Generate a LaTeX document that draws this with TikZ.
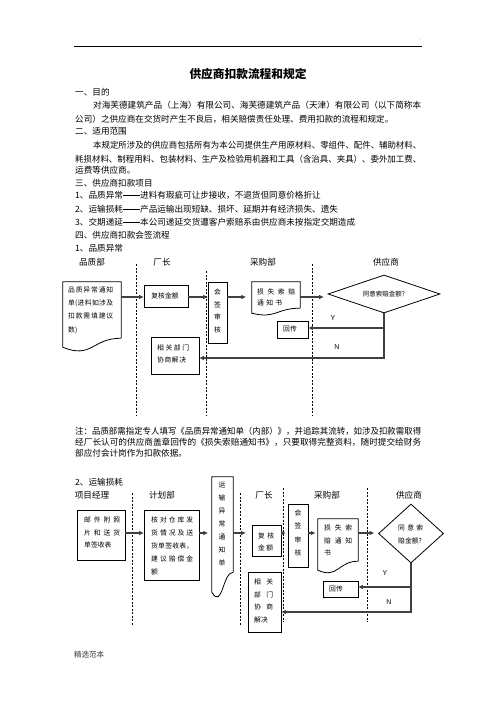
\documentclass[tikz,border=0pt]{standalone}
\usepackage{fontspec}
\setmainfont{Noto Sans CJK SC}
\newfontfamily\lat{Liberation Sans}
\usetikzlibrary{shapes.geometric,arrows.meta,calc}
\newcommand\SP[2]{\hbox to #1{#2}}
\newcommand\DD{\raisebox{0.36em}{\rule{17.2pt}{0.5pt}}}
% document outline below a named node: #1 node, #2 left-corner drop, #3 control drop
\newcommand\docwave[3]{%
  \draw[boxline] (#1.south east) -- (#1.north east) -- (#1.north west)
    -- ([yshift=-#2pt]#1.south west)
    .. controls ([yshift=-#3pt]#1.south) and (#1.south) .. (#1.south east);}
\begin{document}
\begin{tikzpicture}[x=1pt,y=-1pt,
  body/.style={anchor=west,inner sep=0,font=\fontsize{8.6}{10}\selectfont},
  head/.style={inner sep=0,font=\fontsize{8.6}{10}\selectfont},
  boxline/.style={draw=black,line width=0.8pt},
  box/.style={boxline,inner sep=0},
  docn/.style={inner sep=0},
  txt/.style={inner sep=0,align=left,font=\fontsize{6.8}{12.8}\selectfont},
  vtxt/.style={inner sep=0,align=center,font=\fontsize{6.8}{13}\selectfont},
  yn/.style={inner sep=0,font=\lat\fontsize{7}{8}\selectfont},
  lane/.style={draw=black,line width=0.8pt,dash pattern=on 2pt off 1.5pt},
  arr/.style={draw=black!75,line width=1.1pt,-{Stealth[length=4.5pt,width=4pt,inset=0.5pt]}},
  dia/.style={boxline,diamond,inner sep=0}
]
\fill[white] (0,0) rectangle (496,702);
\useasboundingbox (0,0) rectangle (496,702);

% header rule
\draw[line width=0.8pt] (74,46) -- (422,46);
\node[inner sep=0,font=\fontsize{5}{5}\selectfont,text=black!60] (dot) at (420,40) {.};

% title
\node[inner sep=0,font=\fontsize{11.7}{14}\selectfont\bfseries] (title) at (248,74) {供应商扣款流程和规定};

% body text
\node[body] (l1) at (75,92) {一、目的};
\node[body] (l2) at (93,105) {\resizebox{328pt}{\height}{对海芙德建筑产品（上海）有限公司、海芙德建筑产品（天津）有限公司（以下简称本}};
\node[body] (l3) at (75,119) {公司）之供应商在交货时产生不良后，相关赔偿责任处理、费用扣款的流程和规定。};
\node[body] (l4) at (75,131) {二、适用范围};
\node[body] (l5) at (93,145) {\resizebox{328pt}{\height}{本规定所涉及的供应商包括所有为本公司提供生产用原材料、零组件、配件、辅助材料、}};
\node[body] (l6) at (75,159) {\resizebox{346pt}{\height}{耗损材料、制程用料、包装材料、生产及检验用机器和工具（含治具、夹具）、委外加工费、}};
\node[body] (l7) at (75,170) {运费等供应商。};
\node[body] (l8) at (75,183) {三、供应商扣款项目};
\node[body] (l9) at (75,195) {1、品质异常\DD 进料有瑕疵可让步接收，不退货但同意价格折让};
\node[body] (l10) at (75,209) {2、运输损耗\DD 产品运输出现短缺、损坏、延期并有经济损失、遗失};
\node[body] (l11) at (75,222) {3、交期递延\DD 本公司递延交货遭客户索赔系由供应商未按指定交期造成};
\node[body] (l12) at (75,235) {四、供应商扣款会签流程};
\node[body] (l13) at (75,248) {1、品质异常};

% ===== flow 1 =====
\node[head] (h1a) at (92,262) {品质部};
\node[head] (h1b) at (162,262) {厂长};
\node[head] (h1c) at (263,262) {采购部};
\node[head] (h1d) at (386,262) {供应商};
\draw[lane] (136,264) -- (136,415);
\draw[lane] (206,271) -- (206,415);
\draw[lane] (312,264) -- (312,415);

\node[docn,minimum width=58pt,minimum height=56pt] (q1) at (92,310) {};
\docwave{q1}{9}{21}
\node[txt,anchor=west,font=\fontsize{6.8}{13.3}\selectfont] (q1t) at (68,310) {\SP{45pt}{品\hfil 质\hfil 异\hfil 常\hfil 通\hfil 知}\\\SP{45pt}{单(\hfil 进\hfil 料\hfil 如\hfil 涉\hfil 及}\\\SP{45pt}{扣\hfil 款\hfil 需\hfil 填\hfil 建\hfil 议}\\数)};

\node[box,minimum width=44pt,minimum height=22pt] (b1) at (166,296) {};
\node[txt] (b1t) at (165,296) {复核金额};

\node[box,minimum width=19pt,minimum height=61pt] (s1) at (217.5,312.5) {};
\node[vtxt,font=\fontsize{6.8}{12.7}\selectfont] (s1t) at (217.5,311) {会\\签\\审\\核};

\node[docn,minimum width=48pt,minimum height=26pt] (d1) at (276,295) {};
\docwave{d1}{5}{11}
\node[txt,anchor=west,font=\fontsize{6.8}{11.5}\selectfont] (d1t) at (257,297.5) {\SP{38pt}{损\hfil 失\hfil 索\hfil 赔}\\\SP{25pt}{通\hfil 知\hfil 书}};

\node[dia,minimum width=112pt,minimum height=38pt,aspect=2.95] (k1) at (384,294) {};
\node[txt,font=\fontsize{6.5}{8}\selectfont] (k1t) at (384,294) {同意索赔金额?};

\node[box,minimum width=31pt,minimum height=17pt] (r1) at (292.5,329.5) {};
\node[txt] (r1t) at (290,329) {回传};

\node[box,minimum width=48pt,minimum height=37pt] (x1) at (175,355.5) {};
\node[txt,anchor=west,font=\fontsize{6.8}{12}\selectfont] (x1t) at (157,354) {\SP{32pt}{相\hfil 关\hfil 部\hfil 门}\\\SP{29pt}{协\hfil 商\hfil 解\hfil 决}};

\coordinate (ya) at (0,297);
\coordinate (yy1) at (0,328);
\coordinate (nn1) at (0,358);
\draw[arr] (q1.east |- ya) -- (b1.west |- ya);
\draw[arr] (b1.east |- ya) -- (s1.west |- ya);
\draw[arr,shorten >=6pt] (s1.east |- ya) -- (d1.west |- ya);
\draw[arr,shorten >=4pt] (d1.east |- ya) -- (k1.west |- ya);
\draw[arr] (k1.south) |- (r1.east |- yy1);
\draw[arr] (k1.south) |- (x1.east |- nn1);
\node[yn] (y1) at (333,318) {Y};
\node[yn] (n1) at (337,347) {N};

% note
\node[body] (m1) at (75,431) {\resizebox{346pt}{\height}{注：品质部需指定专人填写《品质异常通知单（内部）》，并追踪其流转，如涉及扣款需取得}};
\node[body] (m2) at (75,442) {\resizebox{346pt}{\height}{经厂长认可的供应商盖章回传的《损失索赔通知书》，只要取得完整资料，随时提交给财务}};
\node[body] (m3) at (75,453) {部应付会计岗作为扣款依据。};

% ===== flow 2 =====
\node[body] (l14) at (75,482) {2、运输损耗};
\node[head] (h2a) at (92,495) {项目经理};
\node[head] (h2b) at (162,495) {计划部};
\node[head] (h2c) at (264,495) {厂长};
\node[head] (h2d) at (327,495) {采购部};
\node[head] (h2e) at (409,495) {供应商};
\draw[lane] (132,493) -- (132,625);
\draw[lane] (240,493) -- (240,625);
\draw[lane] (283,488) -- (283,622);
\draw[lane] (367,488) -- (367,622);

\node[box,minimum width=48pt,minimum height=50pt] (p2) at (101,535) {};
\node[txt,anchor=west,font=\fontsize{6.8}{12.5}\selectfont] (p2t) at (84,532.5) {\SP{36pt}{邮\hfil 件\hfil 附\hfil 照}\\\SP{36pt}{片\hfil 和\hfil 送\hfil 货}\\单签收表};

\node[box,minimum width=55pt,minimum height=70pt] (j2) at (171.5,545) {};
\node[txt,anchor=west,font=\fontsize{6.8}{12.9}\selectfont] (j2t) at (151,546) {\SP{42pt}{核\hfil 对\hfil 仓\hfil 库\hfil 发}\\\SP{42pt}{货\hfil 情\hfil 况\hfil 及\hfil 送}\\\SP{42pt}{货\hfil 单\hfil 签\hfil 收\hfil 表\hfil ，}\\\SP{42pt}{建\hfil 议\hfil 赔\hfil 偿\hfil 金}\\额};

\node[docn,minimum width=21pt,minimum height=95pt] (t2) at (222.5,524.5) {};
\docwave{t2}{20}{38}
\node[vtxt] (t2t) at (222,524) {运\\输\\异\\常\\通\\知\\单};

\node[box,minimum width=29pt,minimum height=31pt] (f2) at (266.5,540.5) {};
\node[txt,anchor=west,font=\fontsize{6.8}{12}\selectfont] (f2t) at (258,542) {\SP{16pt}{复\hfil 核}\\\SP{15pt}{金\hfil 额}};

\node[box,minimum width=20pt,minimum height=63pt] (g2) at (298,535.5) {};
\node[vtxt,font=\fontsize{6.8}{13.3}\selectfont] (g2t) at (298,533) {会\\签\\审\\核};

\node[docn,minimum width=40pt,minimum height=42pt] (l2d) at (338,540) {};
\docwave{l2d}{9}{18}
\node[txt,anchor=west,font=\fontsize{6.8}{12.5}\selectfont] (l2t) at (324,540.5) {\SP{28pt}{损\hfil 失\hfil 索}\\\SP{28pt}{赔\hfil 通\hfil 知}\\书};

\node[dia,minimum width=65pt,minimum height=59pt,aspect=1.1] (k2) at (411,533.5) {};
\node[txt,anchor=west,font=\fontsize{6.8}{12.5}\selectfont] (k2t) at (398,534.5) {\SP{25pt}{同\hfil 意\hfil 索}\\赔金额?};

\node[box,minimum width=35pt,minimum height=16pt] (r2) at (340.5,589) {};
\node[txt] (r2t) at (336,589) {回传};

\node[box,minimum width=33pt,minimum height=60pt] (x2) at (264.5,602) {};
\node[txt,anchor=west,font=\fontsize{6.8}{12.7}\selectfont] (x2t) at (254,601) {\SP{19pt}{相\hfil 关}\\\SP{19pt}{部\hfil 门}\\\SP{19pt}{协\hfil 商}\\解决};

\coordinate (yb) at (0,533);
\coordinate (yy2) at (0,587);
\coordinate (nn2) at (0,612);
\draw[arr] (p2.east |- yb) -- (j2.west |- yb);
\draw[arr,shorten >=4pt] (j2.east |- yb) -- (t2.west |- yb);
\draw[arr,shorten >=6pt] (t2.east |- yb) -- (f2.west |- yb);
\draw[arr,shorten >=2pt] (f2.east |- yb) -- (g2.west |- yb);
\draw[arr,shorten >=2.5pt] (g2.east |- yb) -- (l2d.west |- yb);
\draw[arr,shorten >=4pt] (l2d.east |- yb) -- (k2.west |- yb);
\draw[arr] (k2.south) |- (r2.east |- yy2);
\draw[arr] (k2.south) |- (x2.east |- nn2);
\node[yn] (y2) at (385,573) {Y};
\node[yn] (n2) at (389,602) {N};

% footer
\node[anchor=west,inner sep=0,font=\fontsize{7.5}{9}\selectfont,text=black!80] (foot) at (74,655) {精选范本};
\end{tikzpicture}
\end{document}
